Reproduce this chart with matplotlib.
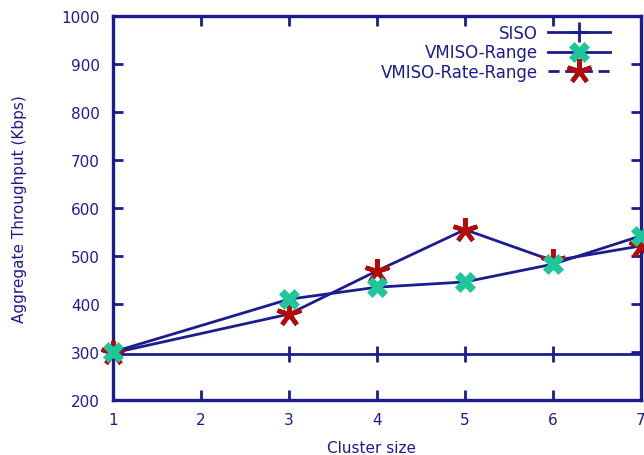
import matplotlib
matplotlib.use("Agg")
import matplotlib.pyplot as plt
from matplotlib.lines import Line2D

cluster_size = [1, 3, 4, 5, 6, 7]
siso = [295, 295, 295, 295, 295, 295]
vmiso_range = [300, 410, 435, 446, 483, 542]
vmiso_rate_range = [298, 379, 469, 555, 490, 521]

x_ticks = [1, 2, 3, 4, 5, 6, 7]
y_ticks = [200, 300, 400, 500, 600, 700, 800, 900, 1000]

navy = "#1c1c8f"
green = "#1dc79a"
red = "#b50a0a"

plt.rcParams["font.family"] = ["DejaVu Sans"]

fig = plt.figure(figsize=(6.44, 4.56), dpi=100)
ax = fig.add_axes([0.1755, 0.1206, 0.8198, 0.8421])

star = (5, 2, 0)

ax.plot(cluster_size, siso, color=navy, lw=2.0, marker="|", ms=12, mew=2.0,
        mec=navy, zorder=3)
ax.plot(cluster_size, vmiso_range, color=navy, lw=2.0, marker="X", ms=15,
        mfc=green, mec=green, mew=0.5, zorder=5)
ax.plot(cluster_size, vmiso_rate_range, color=navy, lw=2.0,
        marker=star, ms=18, mec=red, mfc=red, mew=3.2, zorder=4)

ax.set_xlim(1, 7)
ax.set_ylim(200, 1000)
ax.set_xticks(x_ticks)
ax.set_yticks(y_ticks)

for s in ax.spines.values():
    s.set_color(navy)
    s.set_linewidth(2.4)

ax.tick_params(direction="in", length=7, width=2, color=navy,
               labelcolor=navy, labelsize=11, top=True, right=True)
ax.tick_params(axis="y", pad=9.5)
ax.tick_params(axis="x", pad=8.5)

ax.set_xlabel("Cluster size", color=navy, fontsize=11)
ax.set_ylabel("Aggregate Throughput (Kbps)", color=navy, fontsize=11)
ax.xaxis.set_label_coords(0.49, -0.104)
ax.yaxis.set_label_coords(-0.163, 0.5)

handles = [
    Line2D([], [], color=navy, lw=2.0, marker="+", ms=14, mew=2.0, mec=navy),
    Line2D([], [], color=navy, lw=2.0, marker="X", ms=15, mfc=green, mec=green, mew=0.5),
    Line2D([], [], color=navy, lw=2.0, ls=(0, (4, 2)), marker=star, ms=18,
           mec=red, mfc=red, mew=3.2),
]
labels = ["SISO", "VMISO-Range", "VMISO-Rate-Range"]
leg = ax.legend(handles, labels, loc="upper right", frameon=False, markerfirst=False,
                fontsize=12, handlelength=3.7, handletextpad=0.6,
                labelspacing=0.1, borderaxespad=0.0, borderpad=0.0,
                labelcolor=navy, bbox_to_anchor=(0.941, 0.98))

for line in ax.get_lines():
    line.set_clip_on(False)

fig.savefig("out.png", dpi=100)
